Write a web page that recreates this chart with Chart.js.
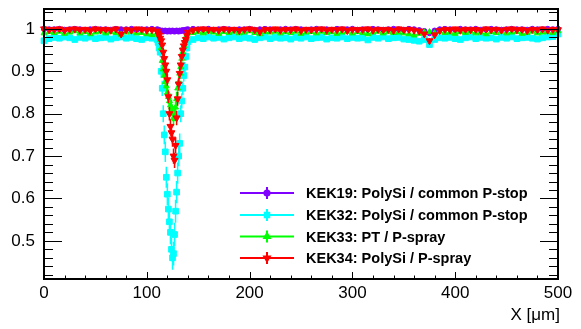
<!DOCTYPE html>
<html>
<head>
<meta charset="utf-8">
<script src="https://cdn.jsdelivr.net/npm/chart.js@4.4.0/dist/chart.umd.min.js"></script>
<style>
  html, body { margin: 0; padding: 0; background: #fff; }
</style>
</head>
<body>
<canvas id="c" width="581" height="329"></canvas>
<script>
// --- dados ---
const posX = [
  0, 5, 10, 15, 20, 25, 30, 35, 40, 45, 50, 55, 60, 65, 70, 75, 80, 85, 90, 95, 100, 105,
  110, 111, 112, 113, 114, 115, 116, 117, 118, 119, 120, 121, 122, 123, 124, 125, 126, 127, 128, 129,
  130, 131, 132, 133, 134, 135, 136, 137, 138, 139, 140,
  145, 150, 155, 160, 165, 170, 175, 180, 185, 190, 195, 200, 205, 210, 215, 220, 225, 230, 235, 240,
  245, 250, 255, 260, 265, 270, 275, 280, 285, 290, 295, 300, 305, 310, 315, 320, 325, 330, 335, 340,
  345, 350, 355, 360, 365, 370, 375, 380, 385, 390, 395, 400, 405, 410, 415, 420, 425, 430, 435, 440,
  445, 450, 455, 460, 465, 470, 475, 480, 485, 490, 495, 500
];

const effKEK19 = [
  1.000, 0.999, 0.999, 1.000, 0.998, 0.999, 1.000, 0.999, 0.998, 0.999,
  1.000, 0.999, 0.999, 0.998, 1.000, 0.999, 0.999, 1.000, 0.998, 0.999,
  0.999, 1.000,
  0.999, 0.998, 0.997, 0.996, 0.995, 0.996, 0.994, 0.995, 0.996, 0.995,
  0.994, 0.995, 0.996, 0.994, 0.995, 0.996, 0.995, 0.994, 0.995, 0.996,
  0.995, 0.994, 0.996, 0.995, 0.996, 0.997, 0.996, 0.997, 0.998, 0.998,
  0.999,
  1.000, 0.999, 0.999, 1.000, 0.998, 0.999, 1.000, 0.999, 0.998, 0.999,
  0.999, 1.000, 0.998, 0.999, 1.000, 0.999, 0.998, 0.999, 1.000, 0.999,
  1.000, 0.999, 0.998, 0.999, 1.000, 0.999, 0.999, 0.998, 1.000, 0.999,
  0.999, 1.000, 0.998, 0.999, 0.999, 1.000, 0.999, 0.998, 0.999, 1.000,
  0.999, 0.998, 1.000, 0.999, 0.997, 0.995, 0.990, 0.996, 0.999, 1.000,
  0.999, 0.998, 1.000, 0.999, 0.999, 1.000, 0.998, 0.999, 1.000, 0.999,
  0.998, 0.999, 1.000, 0.999, 0.999, 0.998, 1.000, 0.999, 0.999, 1.000,
  0.999, 1.000
];
const effKEK32 = [
  0.972, 0.977, 0.980, 0.978, 0.981, 0.979, 0.975, 0.980, 0.978, 0.981,
  0.977, 0.979, 0.980, 0.976, 0.979, 0.981, 0.978, 0.980, 0.977, 0.975,
  0.979, 0.978,
  0.975, 0.968, 0.955, 0.945, 0.900, 0.860, 0.800, 0.750, 0.710, 0.650,
  0.610, 0.575, 0.545, 0.520, 0.480, 0.460, 0.470, 0.515, 0.570, 0.615,
  0.660, 0.700, 0.730, 0.800, 0.830, 0.860, 0.890, 0.910, 0.935, 0.955,
  0.970,
  0.975, 0.979, 0.977, 0.981, 0.978, 0.980, 0.976, 0.979, 0.981, 0.977,
  0.980, 0.978, 0.975, 0.979, 0.981, 0.977, 0.980, 0.978, 0.979, 0.976,
  0.980, 0.978, 0.981, 0.977, 0.979, 0.980, 0.976, 0.979, 0.978, 0.981,
  0.977, 0.980, 0.978, 0.979, 0.974, 0.980, 0.978, 0.981, 0.977, 0.979,
  0.980, 0.976, 0.975, 0.973, 0.971, 0.975, 0.963, 0.975, 0.979, 0.978,
  0.980, 0.977, 0.975, 0.979, 0.981, 0.977, 0.980, 0.978, 0.979, 0.976,
  0.980, 0.978, 0.981, 0.977, 0.979, 0.980, 0.978, 0.976, 0.979, 0.981,
  0.982, 0.988
];
const effKEK33 = [
  0.990, 0.993, 0.991, 0.994, 0.989, 0.992, 0.995, 0.990, 0.993, 0.988,
  0.992, 0.994, 0.990, 0.993, 0.991, 0.987, 0.992, 0.994, 0.990, 0.991,
  0.988, 0.986,
  0.990, 0.988, 0.985, 0.975, 0.955, 0.925, 0.905, 0.890, 0.875, 0.865,
  0.850, 0.840, 0.830, 0.820, 0.815, 0.800, 0.790, 0.800, 0.815, 0.835,
  0.860, 0.875, 0.895, 0.910, 0.930, 0.945, 0.960, 0.972, 0.980, 0.986,
  0.990,
  0.991, 0.993, 0.990, 0.994, 0.992, 0.989, 0.993, 0.991, 0.994, 0.990,
  0.992, 0.995, 0.991, 0.988, 0.993, 0.992, 0.994, 0.990, 0.993, 0.991,
  0.994, 0.989, 0.992, 0.993, 0.990, 0.994, 0.991, 0.993, 0.989, 0.992,
  0.994, 0.990, 0.993, 0.991, 0.988, 0.992, 0.994, 0.990, 0.993, 0.991,
  0.992, 0.990, 0.988, 0.985, 0.989, 0.992, 0.993, 0.990, 0.994, 0.991,
  0.992, 0.989, 0.993, 0.991, 0.994, 0.990, 0.992, 0.988, 0.993, 0.991,
  0.994, 0.990, 0.992, 0.993, 0.989, 0.991, 0.994, 0.990, 0.992, 0.993,
  0.991, 0.995
];
const effKEK34 = [
  1.000, 0.998, 0.999, 1.000, 0.997, 0.999, 1.000, 0.998, 0.999, 0.996,
  1.000, 0.998, 0.999, 0.997, 1.000, 0.988, 0.998, 0.997, 1.000, 0.999,
  0.997, 0.998,
  0.995, 0.990, 0.985, 0.978, 0.972, 0.962, 0.945, 0.930, 0.915, 0.900,
  0.880, 0.840, 0.800, 0.770, 0.755, 0.740, 0.700, 0.690, 0.725, 0.790,
  0.835, 0.870, 0.895, 0.915, 0.935, 0.950, 0.960, 0.968, 0.975, 0.985,
  0.992,
  0.997, 0.999, 1.000, 0.998, 0.999, 0.997, 1.000, 0.998, 0.999, 0.996,
  0.999, 1.000, 0.998, 0.993, 0.999, 0.998, 1.000, 0.997, 0.999, 0.998,
  1.000, 0.996, 0.999, 0.998, 0.999, 1.000, 0.997, 0.999, 0.998, 1.000,
  0.996, 0.999, 0.998, 0.999, 1.000, 0.997, 0.999, 0.998, 0.999, 0.996,
  1.000, 0.998, 0.999, 0.997, 0.995, 0.988, 0.972, 0.986, 0.996, 0.999,
  0.998, 1.000, 0.997, 0.999, 0.998, 0.999, 0.996, 1.000, 0.998, 0.999,
  0.997, 0.999, 1.000, 0.998, 0.999, 0.996, 0.999, 0.998, 1.000, 0.997,
  0.999, 0.998
];

// erros (barras verticais)
const errKEK19 = [
  0.002, 0.002, 0.002, 0.002, 0.002, 0.002, 0.002, 0.002, 0.002, 0.002,
  0.002, 0.002, 0.002, 0.002, 0.002, 0.002, 0.002, 0.002, 0.002, 0.002,
  0.002, 0.002,
  0.002, 0.003, 0.003, 0.003, 0.004, 0.004, 0.004, 0.004, 0.004, 0.004,
  0.004, 0.004, 0.004, 0.004, 0.004, 0.004, 0.004, 0.004, 0.004, 0.004,
  0.004, 0.004, 0.004, 0.004, 0.004, 0.003, 0.003, 0.003, 0.003, 0.002,
  0.002,
  0.002, 0.002, 0.002, 0.002, 0.002, 0.002, 0.002, 0.002, 0.002, 0.002,
  0.002, 0.002, 0.002, 0.002, 0.002, 0.002, 0.002, 0.002, 0.002, 0.002,
  0.002, 0.002, 0.002, 0.002, 0.002, 0.002, 0.002, 0.002, 0.002, 0.002,
  0.002, 0.002, 0.002, 0.002, 0.002, 0.002, 0.002, 0.002, 0.002, 0.002,
  0.002, 0.002, 0.002, 0.002, 0.002, 0.003, 0.003, 0.002, 0.002, 0.002,
  0.002, 0.002, 0.002, 0.002, 0.002, 0.002, 0.002, 0.002, 0.002, 0.002,
  0.002, 0.002, 0.002, 0.002, 0.002, 0.002, 0.002, 0.002, 0.002, 0.002,
  0.002, 0.002
];
const errKEK32 = [
  0.004, 0.003, 0.003, 0.003, 0.003, 0.003, 0.003, 0.003, 0.003, 0.003,
  0.003, 0.003, 0.003, 0.003, 0.003, 0.003, 0.003, 0.003, 0.003, 0.003,
  0.003, 0.003,
  0.006, 0.008, 0.010, 0.012, 0.015, 0.018, 0.020, 0.022, 0.024, 0.025,
  0.026, 0.027, 0.027, 0.028, 0.028, 0.028, 0.028, 0.028, 0.027, 0.026,
  0.025, 0.024, 0.023, 0.020, 0.018, 0.016, 0.014, 0.012, 0.010, 0.008,
  0.006,
  0.003, 0.003, 0.003, 0.003, 0.003, 0.003, 0.003, 0.003, 0.003, 0.003,
  0.003, 0.003, 0.003, 0.003, 0.003, 0.003, 0.003, 0.003, 0.003, 0.003,
  0.003, 0.003, 0.003, 0.003, 0.003, 0.003, 0.003, 0.003, 0.003, 0.003,
  0.003, 0.003, 0.003, 0.003, 0.003, 0.003, 0.003, 0.003, 0.003, 0.003,
  0.003, 0.003, 0.003, 0.004, 0.004, 0.004, 0.005, 0.004, 0.003, 0.003,
  0.003, 0.003, 0.003, 0.003, 0.003, 0.003, 0.003, 0.003, 0.003, 0.003,
  0.003, 0.003, 0.003, 0.003, 0.003, 0.003, 0.003, 0.003, 0.003, 0.003,
  0.003, 0.004
];
const errKEK33 = [
  0.003, 0.003, 0.003, 0.003, 0.003, 0.003, 0.003, 0.003, 0.003, 0.003,
  0.003, 0.003, 0.003, 0.003, 0.003, 0.003, 0.003, 0.003, 0.003, 0.003,
  0.003, 0.003,
  0.004, 0.005, 0.006, 0.008, 0.010, 0.012, 0.013, 0.014, 0.015, 0.016,
  0.016, 0.017, 0.017, 0.018, 0.018, 0.018, 0.018, 0.018, 0.018, 0.017,
  0.016, 0.015, 0.014, 0.013, 0.012, 0.010, 0.009, 0.007, 0.006, 0.005,
  0.004,
  0.003, 0.003, 0.003, 0.003, 0.003, 0.003, 0.003, 0.003, 0.003, 0.003,
  0.003, 0.003, 0.003, 0.003, 0.003, 0.003, 0.003, 0.003, 0.003, 0.003,
  0.003, 0.003, 0.003, 0.003, 0.003, 0.003, 0.003, 0.003, 0.003, 0.003,
  0.003, 0.003, 0.003, 0.003, 0.003, 0.003, 0.003, 0.003, 0.003, 0.003,
  0.003, 0.003, 0.003, 0.003, 0.003, 0.003, 0.003, 0.003, 0.003, 0.003,
  0.003, 0.003, 0.003, 0.003, 0.003, 0.003, 0.003, 0.003, 0.003, 0.003,
  0.003, 0.003, 0.003, 0.003, 0.003, 0.003, 0.003, 0.003, 0.003, 0.003,
  0.003, 0.003
];
const errKEK34 = [
  0.002, 0.002, 0.002, 0.002, 0.003, 0.002, 0.002, 0.002, 0.002, 0.003,
  0.002, 0.002, 0.002, 0.003, 0.002, 0.004, 0.002, 0.003, 0.002, 0.002,
  0.003, 0.002,
  0.004, 0.005, 0.006, 0.007, 0.008, 0.009, 0.010, 0.011, 0.012, 0.013,
  0.014, 0.015, 0.016, 0.017, 0.017, 0.018, 0.018, 0.018, 0.018, 0.017,
  0.016, 0.015, 0.013, 0.012, 0.010, 0.009, 0.008, 0.007, 0.006, 0.005,
  0.004,
  0.002, 0.002, 0.002, 0.002, 0.002, 0.002, 0.002, 0.002, 0.002, 0.003,
  0.002, 0.002, 0.002, 0.003, 0.002, 0.002, 0.002, 0.002, 0.002, 0.002,
  0.002, 0.003, 0.002, 0.002, 0.002, 0.002, 0.002, 0.002, 0.002, 0.002,
  0.003, 0.002, 0.002, 0.002, 0.002, 0.002, 0.002, 0.002, 0.002, 0.003,
  0.002, 0.002, 0.002, 0.002, 0.003, 0.004, 0.006, 0.004, 0.002, 0.002,
  0.002, 0.002, 0.002, 0.002, 0.002, 0.002, 0.003, 0.002, 0.002, 0.002,
  0.002, 0.002, 0.002, 0.002, 0.002, 0.003, 0.002, 0.002, 0.002, 0.002,
  0.002, 0.002
];

const rotulos = [
  'KEK19: PolySi / common P-stop',
  'KEK32: PolySi / common P-stop',
  'KEK33: PT / P-spray',
  'KEK34: PolySi / P-spray'
];

const ticksX = [0, 100, 200, 300, 400, 500];
const ticksY = [0.5, 0.6, 0.7, 0.8, 0.9, 1];

const FONTE = '"Liberation Sans", Arial, Helvetica, sans-serif';

// estilo de cada serie (cor, marcador)
const estilos = [
  { cor: '#8000ff', marca: 'circle', raio: 2.6, rot: 0 },
  { cor: '#00ffff', marca: 'rect', raio: 4, rot: 0 },
  { cor: '#00ff00', marca: 'triangle', raio: 3.4, rot: 0 },
  { cor: '#ff0000', marca: 'triangle', raio: 4, rot: 180 }
];

const series = [effKEK19, effKEK32, effKEK33, effKEK34];
const erros = [errKEK19, errKEK32, errKEK33, errKEK34];

function montarPontos(valores) {
  return posX.map((x, i) => ({ x: x, y: valores[i] }));
}

// barras de erro desenhadas antes dos marcadores de cada serie
const barrasErro = {
  id: 'barrasErro',
  beforeDatasetDraw(chart, args) {
    const ctx = chart.ctx;
    const y = chart.scales.y;
    const err = erros[args.index];
    const vals = series[args.index];
    ctx.save();
    ctx.strokeStyle = estilos[args.index].cor;
    ctx.lineWidth = 1.5;
    ctx.beginPath();
    args.meta.data.forEach((pt, i) => {
      const y1 = y.getPixelForValue(vals[i] - err[i]);
      const y2 = y.getPixelForValue(vals[i] + err[i]);
      ctx.moveTo(pt.x, y1);
      ctx.lineTo(pt.x, y2);
    });
    ctx.stroke();
    ctx.restore();
  }
};

// moldura e ticks internos (estilo ROOT)
const moldura = {
  id: 'moldura',
  afterDraw(chart) {
    const { ctx, chartArea: a, scales } = chart;
    const sx = scales.x, sy = scales.y;
    ctx.save();
    ctx.strokeStyle = '#000';
    ctx.lineWidth = 1;
    ctx.beginPath();
    for (let v = 0; v <= 500; v += 20) {
      const px = Math.round(sx.getPixelForValue(v)) + 0.5;
      const len = v % 100 === 0 ? 7 : 3.5;
      ctx.moveTo(px, a.bottom); ctx.lineTo(px, a.bottom - len);
      ctx.moveTo(px, a.top); ctx.lineTo(px, a.top + len);
    }
    for (let k = 21; k <= 52; k++) {
      const v = k * 0.02;
      const py = Math.round(sy.getPixelForValue(v)) + 0.5;
      const len = k % 5 === 0 ? 18 : 9;
      ctx.moveTo(a.left, py); ctx.lineTo(a.left + len, py);
      ctx.moveTo(a.right, py); ctx.lineTo(a.right - len, py);
    }
    ctx.stroke();
    ctx.lineWidth = 2;
    ctx.strokeRect(a.left, a.top, a.right - a.left, a.bottom - a.top);

    // titulo do eixo X
    ctx.fillStyle = '#000';
    ctx.font = '17px ' + FONTE;
    ctx.textAlign = 'right';
    ctx.textBaseline = 'middle';
    ctx.fillText('X [\u03bcm]', a.right + 2, 315);

    // legenda
    const linhaY = [193, 215, 236.5, 258];
    ctx.font = 'bold 14.5px ' + FONTE;
    ctx.textAlign = 'left';
    estilos.forEach((e, i) => {
      const yy = linhaY[i];
      ctx.strokeStyle = e.cor;
      ctx.fillStyle = e.cor;
      ctx.lineWidth = 2;
      ctx.beginPath();
      ctx.moveTo(240, yy); ctx.lineTo(294, yy);
      ctx.moveTo(267, yy - 6); ctx.lineTo(267, yy + 6);
      ctx.stroke();
      Chart.helpers.drawPoint(ctx, {
        pointStyle: e.marca, radius: Math.min(e.raio, 3.2), rotation: e.rot, borderWidth: 1
      }, 267, yy);
      ctx.fillStyle = '#000';
      ctx.fillText(rotulos[i], 306, yy + 1);
    });
    ctx.restore();
  }
};

new Chart(document.getElementById('c'), {
  type: 'scatter',
  data: {
    datasets: series.map((vals, i) => ({
      label: rotulos[i],
      data: montarPontos(vals),
      backgroundColor: estilos[i].cor,
      borderColor: estilos[i].cor,
      borderWidth: 1,
      pointStyle: estilos[i].marca,
      pointRadius: estilos[i].raio,
      pointRotation: estilos[i].rot,
      showLine: false,
      clip: false,
      order: 4 - i
    }))
  },
  options: {
    responsive: false,
    animation: false,
    layout: { padding: { left: 0, right: 23, top: 9, bottom: 0 } },
    plugins: { legend: { display: false }, tooltip: { enabled: false } },
    scales: {
      x: {
        type: 'linear',
        min: 0, max: 500,
        afterFit: (s) => { s.height = 50; s.paddingLeft = 0; s.paddingRight = 0; },
        afterBuildTicks: (s) => { s.ticks = ticksX.map(v => ({ value: v })); },
        grid: { display: false, drawTicks: false },
        border: { display: false },
        ticks: { color: '#000', font: { family: FONTE, size: 17 }, padding: 4, maxRotation: 0 }
      },
      y: {
        type: 'linear',
        min: 0.41, max: 1.047,
        afterFit: (s) => { s.width = 44; s.paddingTop = 0; s.paddingBottom = 0; },
        afterBuildTicks: (s) => { s.ticks = ticksY.map(v => ({ value: v })); },
        grid: { display: false, drawTicks: false },
        border: { display: false },
        ticks: {
          color: '#000', font: { family: FONTE, size: 17 }, padding: 9,
          callback: (v) => String(v)
        }
      }
    }
  },
  plugins: [barrasErro, moldura]
});
</script>
</body>
</html>
